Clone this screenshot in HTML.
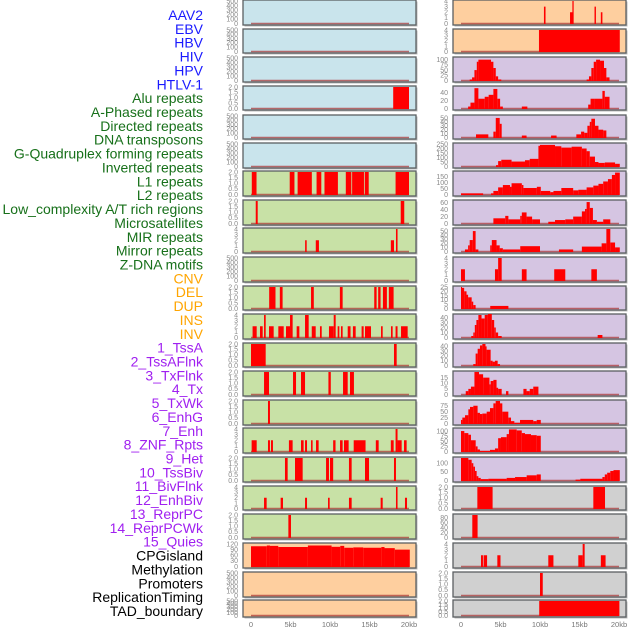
<!DOCTYPE html>
<html><head><meta charset="utf-8"><style>
html,body{margin:0;padding:0;background:#fff;}
svg{display:block;font-family:"Liberation Sans",sans-serif;}
</style></head><body>
<svg id="chart" width="630" height="630" viewBox="0 0 630 630" xmlns="http://www.w3.org/2000/svg"></svg>
<script>
const labels = ["AAV2","EBV","HBV","HIV","HPV","HTLV-1","Alu repeats","A-Phased repeats","Directed repeats","DNA transposons","G-Quadruplex forming repeats","Inverted repeats","L1 repeats","L2 repeats","Low_complexity A/T rich regions","Microsatellites","MIR repeats","Mirror repeats","Z-DNA motifs","CNV","DEL","DUP","INS","INV","1_TssA","2_TssAFlnk","3_TxFlnk","4_Tx","5_TxWk","6_EnhG","7_Enh","8_ZNF_Rpts","9_Het","10_TssBiv","11_BivFlnk","12_EnhBiv","13_ReprPC","14_ReprPCWk","15_Quies","CPGisland","Methylation","Promoters","ReplicationTiming","TAD_boundary"];
const labelGroups = [0,0,0,0,0,0,1,1,1,1,1,1,1,1,1,1,1,1,1,2,2,2,2,2,3,3,3,3,3,3,3,3,3,3,3,3,3,3,3,4,4,4,4,4];
const xTickValues = [0,5,10,15,20];
const xTickLabels = ["0","5kb","10kb","15kb","20kb"];
const leftBg = ["b","b","b","b","b","b","g","g","g","g","g","g","g","g","g","g","g","g","g","o","o","o"];
const rightBg = ["o","o","p","p","p","p","p","p","p","p","p","p","p","p","p","p","p","y","y","y","y","y"];
const leftYMax = [500,500,500,2,500,500,2,2,4,500,2,4,2,2,2,4,2,4,2,120,500,500];
const rightYMax = [4,4,108,55,55,250,190,65,55,4,25,45,45,20,95,110,130,2,90,4,2,2];
const leftTicks = [[0,100,200,300,400,500],[0,100,200,300,400,500],[0,100,200,300,400,500],[0,0.5,1,1.5,2],[0,100,200,300,400,500],[0,100,200,300,400,500],[0,0.5,1,1.5,2],[0,0.5,1,1.5,2],[0,1,2,3,4],[0,100,200,300,400,500],[0,0.5,1,1.5,2],[0,1,2,3,4],[0,0.5,1,1.5,2],[0,0.5,1,1.5,2],[0,0.5,1,1.5,2],[0,1,2,3,4],[0,0.5,1,1.5,2],[0,1,2,3,4],[0,0.5,1,1.5,2],[0,30,60,90,120],[0,100,200,300,400,500],[0,100,200,300,400,500]];
const rightTicks = [[0,1,2,3,4],[0,1,2,3,4],[0,25,50,75,100],[0,20,40],[0,10,20,30,40,50],[0,50,100,150,200,250],[0,50,100,150],[0,20,40,60],[0,10,20,30,40,50],[0,1,2,3,4],[0,5,10,15,20,25],[0,10,20,30,40],[0,10,20,30,40],[0,5,10,15],[0,25,50,75],[0,25,50,75,100],[0,50,100],[0,0.5,1,1.5,2],[0,20,40,60,80],[0,1,2,3,4],[0,0.5,1,1.5,2],[0,0.5,1,1.5,2]];
const leftSegs = [
[],[],[],
[[18,20,2]],
[],[],
[[0.1,0.7,2],[4.9,5.5,2],[5.9,7.7,2],[8.3,8.9,2],[9.3,11,2],[12,12.7,2],[12.8,14.3,2],[14.4,14.9,2],[18.3,20,2]],
[[0.6,0.85,2],[18.95,19.4,2]],
[[6.85,7.05,2],[8.2,8.6,2],[17.7,18.1,2],[18.35,18.55,4]],
[],
[[2.3,3.1,2],[3.65,4.0,2],[7.6,7.95,2],[11.25,11.6,2],[15.6,15.9,2],[16.1,16.4,2],[16.7,17.2,2],[17.45,18.05,2]],
[[0.2,0.72,2],[1.14,1.48,2],[1.65,1.86,4],[2.28,2.87,2],[3.46,4.14,2],[4.43,4.94,2],[4.94,5.27,4],[5.78,6.12,2],[6.84,7.3,4],[7.69,8.19,2],[8.73,8.95,2],[9.87,10.47,2],[10.47,10.72,4],[10.97,11.18,2],[11.39,11.6,2],[12.24,12.6,2],[12.9,13.25,2],[14.0,14.26,2],[14.43,15.19,2],[16.46,16.67,2],[17.72,17.93,2],[18.3,18.55,2],[18.99,19.83,2]],
[[0,1.86,2],[18.1,18.44,2]],
[[1.65,2.28,2],[5.32,5.7,2],[6.33,6.84,2],[9.8,10.1,2],[11.65,12.24,2],[12.53,13.03,2]],
[[2.15,2.4,2]],
[[0.08,0.72,2],[2.15,2.4,2],[2.53,2.78,2],[4.8,5.27,2],[6.33,6.66,2],[6.84,7.09,2],[7.6,7.8,2],[8.23,8.56,2],[10.4,10.7,2],[11.27,11.6,2],[11.77,12.36,2],[13.0,14.5,2],[15.8,16.16,2],[17.7,18.06,2],[18.3,18.55,4],[18.55,19.07,2],[19.37,19.7,2]],
[[4.3,4.64,2],[5.57,6.54,2],[9.5,9.87,2],[10.0,10.4,2],[12.4,12.74,2],[14.43,14.94,2],[18.1,18.35,2]],
[[1.65,1.98,2],[3.75,4.05,2],[6.84,7.09,2],[9.75,9.96,2],[12.4,12.74,2],[16.41,16.67,2],[18.35,18.55,4],[19.49,19.75,2]],
[[4.73,5.06,2]],
[[0,2.0,108],[2.0,2.4,112],[2.4,3.45,110],[3.45,7.2,104],[7.2,10.2,112],[10.2,11.3,105],[11.3,11.8,110],[11.8,12.95,100],[12.95,14.2,102],[14.2,16.5,100],[16.5,16.9,104],[16.9,18.2,98],[18.2,20.1,90]],
[],[]
];
const rightSegs = [
[[10.5,10.7,3],[13.8,14.2,2],[14.1,14.26,4],[16.9,17.08,3],[17.7,17.9,2]],
[[9.87,20.1,4]],
[[1.1,1.4,5],[1.4,1.7,15],[1.7,2.0,50],[2.0,2.2,90],[2.2,3.8,100],[3.8,4.1,90],[4.1,4.4,60],[4.4,4.7,20],[4.7,5.1,5],[15.9,16.2,5],[16.2,16.5,20],[16.5,16.8,60],[16.8,17.1,90],[17.1,17.6,100],[17.6,18.1,95],[18.1,18.4,60],[18.4,18.8,15]],
[[0.9,1.2,5],[1.2,1.7,15],[1.7,2.2,52],[2.2,3.0,25],[3.0,3.5,30],[3.5,4.1,35],[4.1,4.6,50],[4.6,4.95,25],[4.95,5.3,5],[7.7,8.4,5],[16.1,16.4,10],[16.4,16.95,25],[16.95,17.9,25],[17.9,18.2,45],[18.2,18.8,30]],
[[1.9,3.46,8],[4.1,4.4,15],[4.4,4.9,50],[4.9,5.15,35],[7.7,8.3,5],[11.4,12.1,5],[14.6,15.2,8],[15.2,15.6,15],[15.6,16.0,12],[16.0,16.3,30],[16.3,16.5,40],[16.5,16.96,48],[16.96,17.4,30],[17.4,18.0,20],[18.0,18.4,18]],
[[4.43,4.7,15],[4.7,5.1,60],[5.1,6.4,75],[6.4,8.1,55],[8.1,8.7,70],[8.7,9.8,85],[9.8,10.0,230],[10.0,11.9,240],[11.9,12.7,225],[12.7,14.0,210],[14.0,15.3,220],[15.3,15.9,200],[15.9,16.3,170],[16.3,16.96,110],[16.96,17.4,50],[17.4,18.2,40],[18.2,19.5,45],[19.5,20.1,30]],
[[0,2.8,10],[3.8,4.1,10],[4.1,4.7,30],[4.7,5.3,60],[5.3,6.2,80],[6.2,6.4,65],[6.4,7.7,95],[7.7,7.9,80],[7.9,9.6,55],[9.6,10.1,65],[10.1,11.3,30],[11.3,11.7,20],[11.7,12.7,30],[12.7,14.2,55],[14.2,14.85,35],[14.85,15.9,40],[15.9,16.75,60],[16.75,17.4,75],[17.4,18.0,90],[18.0,18.6,110],[18.6,19.1,130],[19.1,19.5,165],[19.5,20.1,185]],
[[4.1,5.6,15],[5.6,6.0,22],[6.0,7.5,12],[7.5,7.7,22],[7.7,8.3,32],[8.3,9.0,20],[9.0,10.0,12],[11.05,11.9,5],[11.9,13.2,10],[13.2,14.2,12],[14.2,15.3,20],[15.3,15.7,35],[15.7,15.9,42],[15.9,16.3,62],[16.3,16.7,45],[16.7,17.2,10],[17.2,18.0,5],[18.0,18.9,12]],
[[0.5,0.9,5],[0.9,1.1,15],[1.1,1.5,28],[1.5,1.85,50],[1.85,2.2,5],[3.7,3.9,15],[3.9,4.5,28],[4.5,4.9,15],[4.9,5.3,8],[5.3,7.5,5],[7.5,10.0,13],[12.4,14.2,5],[15.3,17.8,12],[17.8,18.4,20],[18.4,18.9,55],[18.9,19.5,22],[19.5,20.1,10]],
[[0,0.5,2],[4.3,4.7,2],[4.7,5.15,4],[7.7,8.3,2],[11.8,13.2,2],[16.5,17.2,2]],
[[0,0.1,25],[0.1,0.4,24],[0.4,0.7,20],[0.7,0.9,16],[0.9,1.35,13],[1.35,1.55,8],[1.55,1.85,4],[3.7,6.0,3]],
[[1.3,1.56,3],[1.56,1.75,10],[1.75,1.95,25],[1.95,2.2,35],[2.2,2.6,45],[2.6,3.0,38],[3.0,3.4,45],[3.4,3.9,47],[3.9,4.2,35],[4.2,4.4,20],[4.4,4.7,10],[4.7,5.15,3],[17.3,17.9,5]],
[[1.55,1.85,3],[1.85,2.11,25],[2.11,2.4,35],[2.4,2.7,42],[2.7,3.1,45],[3.1,3.24,40],[3.24,3.75,33],[3.75,4.0,10],[4.0,4.3,8],[4.3,4.64,10],[4.64,4.94,3]],
[[0.6,0.93,3],[0.93,1.26,5],[1.26,1.7,7],[1.7,2.28,20],[2.28,2.8,18],[2.8,3.6,15],[3.6,3.75,9],[3.75,4.1,12],[4.1,4.5,13],[4.5,4.7,6],[4.7,5.15,5],[5.7,6.0,3],[7.9,8.3,5],[8.3,8.7,3],[8.7,9.15,5],[9.15,9.8,7]],
[[0,0.17,15],[0.17,0.51,25],[0.51,0.93,35],[0.93,1.14,60],[1.14,1.56,70],[1.56,2.1,75],[2.1,2.4,45],[2.4,2.7,40],[2.7,3.25,42],[3.25,3.67,50],[3.67,4.1,65],[4.1,4.39,85],[4.39,4.94,95],[4.94,5.23,85],[5.23,5.99,50],[5.99,6.33,25],[6.33,6.75,10],[6.75,7.47,3],[7.47,9.15,15],[9.15,9.58,10],[9.58,10.1,15]],
[[0,0.42,100],[0.42,0.93,90],[0.93,1.26,82],[1.26,1.86,55],[1.86,2.1,25],[2.1,2.4,10],[2.4,3.67,3],[3.67,4.3,8],[4.3,4.7,15],[4.7,5.06,65],[5.06,5.78,70],[5.78,6.07,85],[6.07,7.05,108],[7.05,7.69,103],[7.69,8.1,90],[8.1,8.86,85],[8.86,9.58,80],[9.58,10.1,77]],
[[0,0.93,130],[0.93,1.35,120],[1.35,1.56,100],[1.56,1.77,80],[1.77,1.98,55],[1.98,2.2,25],[2.2,2.5,15],[2.5,3.46,8],[3.46,5.78,10],[5.78,6.84,15],[6.84,8.31,20],[8.31,9.58,30],[9.58,10.1,35],[14.5,15.1,5],[15.1,17.9,10],[17.9,18.2,20],[18.2,18.5,35],[18.5,18.9,45],[18.9,19.3,55],[19.3,20.1,60]],
[[2.07,4.0,2],[16.75,18.23,2]],
[[1.43,2.1,90]],
[[2.53,2.78,2],[2.86,3.3,2],[4.6,5.0,2],[11.05,11.7,2],[14.85,15.4,2],[15.4,15.65,4],[17.7,18.3,2]],
[[10.0,10.35,2]],
[[9.9,20.05,2]]
];
const rowTop = [0,29,57,86,115,143,171,200,228,257,286,314,343,371,400,428,457,486,514,543,572,600];
const rowBot = [25,53,82,110,139,168,196,225,253,282,310,339,367,396,425,453,482,510,539,568,597,617];

const NS = "http://www.w3.org/2000/svg";
const svg = document.getElementById("chart");
const bgColors = {b:"#c9e4ec",g:"#c8e1a6",o:"#fecf9f",p:"#d5c5e2",y:"#d0d0d0"};
const labelColors = ["#1a1aff","#17701a","#ffa500","#a020f0","#000000"];
function mk(tag, attrs, parent){
  const e = document.createElementNS(NS, tag);
  for (const k in attrs) e.setAttribute(k, attrs[k]);
  (parent||svg).appendChild(e);
  return e;
}
function fmt(v, ymax){
  if (ymax <= 2) return v.toFixed(1);
  return String(v);
}
// labels
labels.forEach((t,i)=>{
  const el = mk("text",{x:203,y:(20+i*13.86).toFixed(1),"text-anchor":"end","font-size":"14",fill:labelColors[labelGroups[i]]});
  el.textContent = t;
  
  
});
function drawColumn(side, px0, pxL, pxR, bgs, ymaxs, ticks, segs){
  const kbToX = kb => px0 + kb*7.9;
  for (let r=0; r<rowTop.length; r++){
    const g = mk("g",{});
    
    
    const top = rowTop[r], bot = rowBot[r];
    mk("rect",{x:pxL+1.5,y:top+1.5,width:pxR-pxL,height:bot-top,fill:"#bbb"},g);
    mk("rect",{x:pxL,y:top,width:pxR-pxL,height:bot-top,fill:bgColors[bgs[r]],stroke:"#5a5f62","stroke-width":"1.3"},g);
    const y0 = bot-1.5, y1 = top+1;
    const yS = v => y0 - (v/ymaxs[r])*(y0-y1);
    mk("line",{x1:kbToX(0),x2:kbToX(20),y1:y0,y2:y0,stroke:"#a33","stroke-width":"1.6","stroke-opacity":"0.7"},g);
    segs[r].forEach(s=>{
      const b = mk("rect",{x:kbToX(s[0]).toFixed(2),y:yS(s[2]).toFixed(2),width:Math.max(1,(kbToX(s[1])-kbToX(s[0]))).toFixed(2),height:(y0-yS(s[2])+0.5).toFixed(2),fill:"#ff0000"},g);
      
      
    });
    ticks[r].forEach(v=>{
      const t = mk("text",{x:pxL-5,y:(yS(v)+2.3).toFixed(1),"text-anchor":"end","font-size":"7",fill:"#8a8a8a"},g);
      t.textContent = fmt(v, ymaxs[r]);
      
      
    });
  }
  xTickValues.forEach((v,i)=>{
    const t = mk("text",{x:kbToX(v),y:627,"text-anchor":"middle","font-size":"7.5",fill:"#777"});
    t.textContent = xTickLabels[i];
    
    
  });
}
drawColumn("left", 251, 243, 416, leftBg, leftYMax, leftTicks, leftSegs);
drawColumn("right", 461, 453, 626, rightBg, rightYMax, rightTicks, rightSegs);
</script>
</body></html>
